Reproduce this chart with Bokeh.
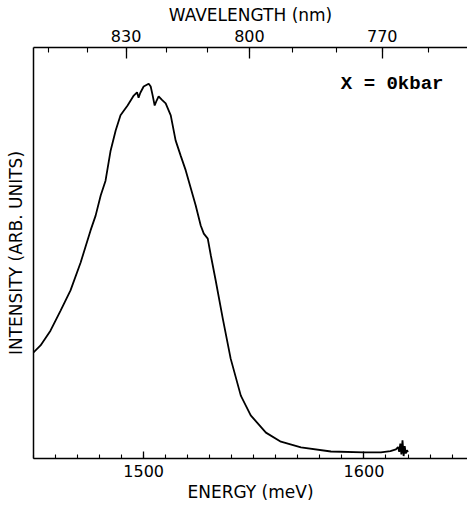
from bokeh.plotting import figure
from bokeh.models import Range1d, LinearAxis, FixedTicker, CustomJSTickFormatter, Label
from bokeh.embed import file_html
from bokeh.resources import INLINE

# ---- data ----
energy = [1450.0, 1453.2, 1457.7, 1462.3, 1466.8, 1471.4, 1475.9, 1478.2, 1480.5, 1482.7,
          1485.0, 1487.3, 1489.5, 1492.7, 1495.5, 1497.0, 1497.7, 1498.5, 1500.0, 1502.3,
          1503.2, 1504.1, 1505.0, 1505.9, 1506.8, 1508.2, 1510.0, 1512.3, 1514.5, 1516.8,
          1519.1, 1523.6, 1525.9, 1527.3, 1529.1, 1530.5, 1532.7, 1535.9, 1539.5, 1544.1,
          1548.6, 1555.5, 1562.3, 1571.4, 1585.0, 1600.0, 1607.7, 1612.0, 1614.5, 1615.5,
          1616.0, 1616.5, 1617.0, 1617.5, 1618.0, 1618.5, 1619.0, 1619.5, 1620.0]
intensity = [25.8, 27.5, 31.1, 36.0, 40.9, 47.7, 55.5, 59.1, 64.0, 67.6,
             74.9, 79.8, 83.5, 85.9, 88.3, 89.1, 87.8, 89.0, 90.5, 91.2,
             90.5, 88.3, 85.9, 87.1, 88.1, 87.3, 86.4, 83.5, 77.4, 73.7,
             70.1, 61.6, 56.7, 54.7, 53.5, 49.4, 43.3, 34.1, 24.3, 15.3,
             10.5, 6.3, 4.1, 2.7, 1.7, 1.5, 1.5, 1.8, 2.2, 2.8,
             1.6, 3.6, 1.0, 4.4, 0.6, 3.0, 1.2, 2.0, 1.6]

energy_major = [1500, 1600]
energy_minor = list(range(1450, 1650, 10))
wavelength_major = [830, 800, 770]
wavelength_minor = [850, 840, 830, 820, 810, 800, 790, 780, 770, 760]
HC = 1238400.0  # meV * nm, conversion used for the top axis
pressure_label = "X = 0kbar"

FONT = "DejaVu Sans"

p = figure(width=467, height=506, output_backend="svg", toolbar_location=None,
           x_range=Range1d(1450, 1647), y_range=Range1d(0, 100),
           x_axis_location=None, y_axis_location=None,
           min_border_left=33, min_border_right=0, min_border_top=47,
           min_border_bottom=48)
p.outline_line_color = None
p.grid.grid_line_color = None
p.background_fill_color = "white"
p.border_fill_color = "white"


def style(ax, tick_major, tick_minor, label_size):
    ax.axis_line_color = "black"
    ax.axis_line_width = 1.5
    ax.major_tick_line_color = "black"
    ax.minor_tick_line_color = "black"
    ax.major_tick_line_width = 1.3
    ax.minor_tick_line_width = 1.1
    ax.major_tick_in = tick_major
    ax.major_tick_out = 0
    ax.minor_tick_in = tick_minor
    ax.minor_tick_out = 0
    ax.major_label_text_font = FONT
    ax.major_label_text_font_size = "16px"
    ax.major_label_text_color = "black"
    ax.major_label_standoff = 6
    ax.axis_label_text_font = FONT
    ax.axis_label_text_font_size = label_size
    ax.axis_label_text_font_style = "normal"
    ax.axis_label_text_color = "black"
    ax.axis_label_standoff = 2


xb = LinearAxis(ticker=FixedTicker(ticks=energy_major, minor_ticks=energy_minor),
                axis_label="ENERGY (meV)")
style(xb, 7, 4, "17px")
p.add_layout(xb, "below")

xt = LinearAxis(ticker=FixedTicker(ticks=[HC / w for w in wavelength_major],
                                   minor_ticks=[HC / w for w in wavelength_minor]),
                formatter=CustomJSTickFormatter(code="return Math.round(%f / tick).toString();" % HC),
                axis_label="WAVELENGTH (nm)")
style(xt, 11, 5, "17px")
p.add_layout(xt, "above")

yl = LinearAxis(ticker=FixedTicker(ticks=[]), axis_label="INTENSITY (ARB. UNITS)")
style(yl, 0, 0, "17px")
yl.major_label_text_font_size = "0px"
yl.major_label_standoff = 0
yl.axis_label_standoff = 8
p.add_layout(yl, "left")

p.line(energy, intensity, line_color="black", line_width=1.8)

p.add_layout(Label(x=1589.5, y=91.2, text=pressure_label, text_font="Liberation Mono",
                   text_font_style="bold", text_font_size="19px", text_baseline="middle",
                   text_color="black"))

open("out.html", "w").write(file_html(p, INLINE))
